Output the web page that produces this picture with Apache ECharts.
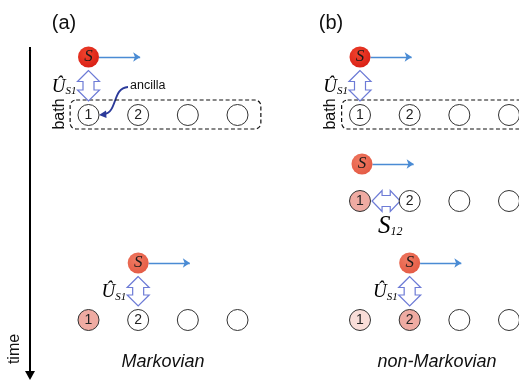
<!DOCTYPE html>
<html><head><meta charset="utf-8">
<script src="https://cdn.jsdelivr.net/npm/echarts@6/dist/echarts.min.js"></script>
<style>html,body{margin:0;padding:0;background:#fff}#c{width:519px;height:380px}</style>
</head><body><div id="c"></div>
<script>
// ---- data (logical units: x = bath site index, y = time position) ----
const sites = [1, 2, 3, 4];
const siteLabels = ['1', '2', '', ''];
const panelTitles = ['(a)', '(b)'];
const panelCaptions = ['Markovian', 'non-Markovian'];

// panel (a): Markovian
const aSystemX = [1, 2];
const aSystemY = [5.7, 26.3];
const aSystemTone = [0, 1];
const aBathY = [11.5, 32.0];
const aFill = [[0, 0, 0, 0], [2, 0, 0, 0]];
const aCoupleRows = [0, 1];

// panel (b): non-Markovian
const bSystemX = [1, 1.04, 2];
const bSystemY = [5.7, 16.4, 26.3];
const bSystemTone = [0, 1, 1];
const bBathY = [11.5, 20.1, 32.0];
const bFill = [[0, 0, 0, 0], [2, 0, 0, 0], [1, 2, 0, 0]];
const bCoupleRows = [0, 2];
const bCollisionRow = 1;
const bCollisionSites = [1.243, 1.81];

const bathBoxSites = [0.63, 4.47];
const arrowSpan = [0.21, 1.04];

// ---- styles ----
const fillColors = ['#ffffff', '#f9ddd8', '#efaba2'];
const arrowBlue = '#4a8bd4';
const hollowBlue = '#6d7bd6';

const sysColors = [
  {type: 'radial', x: 0.4, y: 0.35, r: 0.7, colorStops: [{offset: 0, color: '#f0442e'}, {offset: 1, color: '#d81e14'}]},
  {type: 'radial', x: 0.4, y: 0.35, r: 0.7, colorStops: [{offset: 0, color: '#f07a62'}, {offset: 1, color: '#e45a44'}]}
];

function bathData(bathY, fill) {
  const out = [];
  bathY.forEach((y, r) => sites.forEach((s, i) => {
    out.push({value: [s, y], label: siteLabels[i], itemStyle: {color: fillColors[fill[r][i]]}});
  }));
  return out;
}
function sysData(xs, ys, tones) {
  return xs.map((x, i) => ({value: [x, ys[i]], itemStyle: {color: sysColors[tones[i]]}}));
}
function arrowData(xs, ys) {
  return xs.map((x, i) => ({coords: [[x + arrowSpan[0], ys[i]], [x + arrowSpan[1], ys[i]]]}));
}

function hollowPts(p1, p2, w, s, h) {
  const dx = p2[0] - p1[0], dy = p2[1] - p1[1];
  const L = Math.hypot(dx, dy);
  const u = [dx / L, dy / L], n = [-u[1], u[0]];
  const P = (b, a, k) => [b[0] + u[0] * a + n[0] * k, b[1] + u[1] * a + n[1] * k];
  return [p1, P(p1, h, w / 2), P(p1, h, s / 2), P(p2, -h, s / 2), P(p2, -h, w / 2), p2,
          P(p2, -h, -w / 2), P(p2, -h, -s / 2), P(p1, h, -s / 2), P(p1, h, -w / 2)];
}

const uRich = {
  u: {fontFamily: 'Liberation Serif', fontStyle: 'italic', fontSize: 19, color: '#111', lineHeight: 22},
  s: {fontFamily: 'Liberation Serif', fontStyle: 'italic', fontSize: 11, color: '#111', lineHeight: 22, padding: [9, 0, 0, 0]}
};

function couplingSeries(gi, xs, ys, bys, rows) {
  return {
    type: 'custom', xAxisIndex: gi, yAxisIndex: gi, z: 3,
    data: rows.map(r => [xs[r], ys[r], bys[r]]),
    renderItem: function (params, api) {
      const x = api.value(0);
      const top = api.coord([x, api.value(1)]);
      const bot = api.coord([x, api.value(2)]);
      const p1 = [top[0], top[1] + 13.5];
      const p2 = [bot[0], bot[1] - 14];
      const mid = (p1[1] + p2[1]) / 2;
      return {type: 'group', children: [
        {type: 'polygon', shape: {points: hollowPts(p1, p2, 22, 11, 11)},
         style: {fill: '#fff', stroke: hollowBlue, lineWidth: 1.2}},
        {type: 'text', x: p1[0] - 12, y: mid + 1,
         style: {text: '{u|Û}{s|S1}', rich: uRich, align: 'right', verticalAlign: 'middle'}}
      ]};
    }
  };
}

function boxSeries(gi, bathY) {
  return {
    type: 'custom', xAxisIndex: gi, yAxisIndex: gi, z: 1,
    data: [[bathBoxSites[0], bathBoxSites[1], bathY[0]]],
    renderItem: function (params, api) {
      const a = api.coord([api.value(0), api.value(2)]);
      const b = api.coord([api.value(1), api.value(2)]);
      return {type: 'rect', shape: {x: a[0], y: a[1] - 15, width: b[0] - a[0], height: 29, r: 6},
        style: {fill: 'none', stroke: '#111', lineWidth: 1.2, lineDash: [4, 2.5]}};
    }
  };
}

const labelStyle = {show: true, position: 'inside', fontFamily: 'Liberation Sans', fontSize: 14, color: '#222',
  formatter: p => p.data.label};
const sysLabel = {show: true, position: 'inside', formatter: 'S', fontFamily: 'Liberation Serif',
  fontStyle: 'italic', fontSize: 17, color: '#1a1a1a'};

function panelSeries(gi, sx, sy, tone, by, fill, rows) {
  return [
    boxSeries(gi, by),
    {type: 'scatter', xAxisIndex: gi, yAxisIndex: gi, symbolSize: 21, z: 4, data: bathData(by, fill),
     itemStyle: {borderColor: '#333', borderWidth: 1, opacity: 1}, label: labelStyle},
    {type: 'lines', coordinateSystem: 'cartesian2d', xAxisIndex: gi, yAxisIndex: gi, z: 2,
     symbol: ['none', 'arrow'], symbolSize: 7, data: arrowData(sx, sy),
     lineStyle: {color: arrowBlue, width: 1.3, opacity: 1}},
    {type: 'scatter', xAxisIndex: gi, yAxisIndex: gi, symbolSize: 21, z: 5, data: sysData(sx, sy, tone),
     itemStyle: {opacity: 1}, label: sysLabel},
    couplingSeries(gi, sx, sy, by, rows)
  ];
}

const collisionSeries = {
  type: 'custom', xAxisIndex: 1, yAxisIndex: 1, z: 3,
  data: [[bCollisionSites[0], bCollisionSites[1], bBathY[bCollisionRow]]],
  renderItem: function (params, api) {
    const p1 = api.coord([api.value(0), api.value(2)]);
    const p2 = api.coord([api.value(1), api.value(2)]);
    return {type: 'group', children: [
      {type: 'polygon', shape: {points: hollowPts(p1, p2, 21, 11, 10)},
       style: {fill: '#fff', stroke: hollowBlue, lineWidth: 1.2}},
      {type: 'text', x: (p1[0] + p2[0]) / 2 + 4, y: p1[1] + 25,
       style: {text: '{u|S}{s|12}', align: 'center', verticalAlign: 'middle', rich: {
         u: {fontFamily: 'Liberation Serif', fontStyle: 'italic', fontSize: 25, color: '#111', lineHeight: 26},
         s: {fontFamily: 'Liberation Serif', fontStyle: 'italic', fontSize: 12, color: '#111', lineHeight: 26, padding: [12, 0, 0, 0]}
       }}}
    ]};
  }
};

const spacing = 49.67;
const grids = [{left: 88.5 - spacing, top: 0, width: spacing * 4, height: 380},
               {left: 360 - spacing, top: 0, width: spacing * 4, height: 380}];
const xAxes = grids.map((g, i) => ({type: 'value', gridIndex: i, min: 0, max: 4, show: false}));
const yAxes = grids.map((g, i) => ({type: 'value', gridIndex: i, min: 0, max: 38, inverse: true, show: false}));

const txt = (x, y, text, extra) => Object.assign({type: 'text', x: x, y: y,
  style: Object.assign({text: text, fontFamily: 'Liberation Sans', fill: '#111', align: 'center', verticalAlign: 'middle'}, extra.style || {})},
  extra.rotation !== undefined ? {rotation: extra.rotation} : {});

const chart = echarts.init(document.getElementById('c'));
chart.setOption({
  animation: false,
  backgroundColor: '#fff',
  grid: grids, xAxis: xAxes, yAxis: yAxes,
  series: [].concat(
    panelSeries(0, aSystemX, aSystemY, aSystemTone, aBathY, aFill, aCoupleRows),
    panelSeries(1, bSystemX, bSystemY, bSystemTone, bBathY, bFill, bCoupleRows),
    [collisionSeries]
  ),
  graphic: [
    txt(64, 23, panelTitles[0], {style: {fontSize: 20}}),
    txt(331, 23, panelTitles[1], {style: {fontSize: 20}}),
    {type: 'line', shape: {x1: 30, y1: 47, x2: 30, y2: 373}, style: {stroke: '#000', lineWidth: 2}},
    {type: 'polygon', shape: {points: [[25, 371], [35, 371], [30, 380]]}, style: {fill: '#000'}},
    txt(15, 349, 'time', {rotation: Math.PI / 2, style: {fontSize: 16}}),
    txt(60, 114, 'bath', {rotation: Math.PI / 2, style: {fontSize: 16}}),
    txt(331, 114, 'bath', {rotation: Math.PI / 2, style: {fontSize: 16}}),
    txt(130, 86, 'ancilla', {style: {fontSize: 12.5, align: 'left'}}),
    {type: 'bezierCurve', shape: {x1: 128, y1: 87, cpx1: 112, cpy1: 88, cpx2: 118, cpy2: 112, x2: 104, y2: 114},
     style: {stroke: '#2b3a9a', lineWidth: 1.8, fill: 'none'}},
    {type: 'polygon', shape: {points: [[99, 115], [106, 110.5], [106.5, 118]]}, style: {fill: '#2b3a9a'}},
    txt(163, 362, panelCaptions[0], {style: {fontSize: 18, fontStyle: 'italic'}}),
    txt(437, 362, panelCaptions[1], {style: {fontSize: 18, fontStyle: 'italic'}})
  ]
});
</script></body></html>
